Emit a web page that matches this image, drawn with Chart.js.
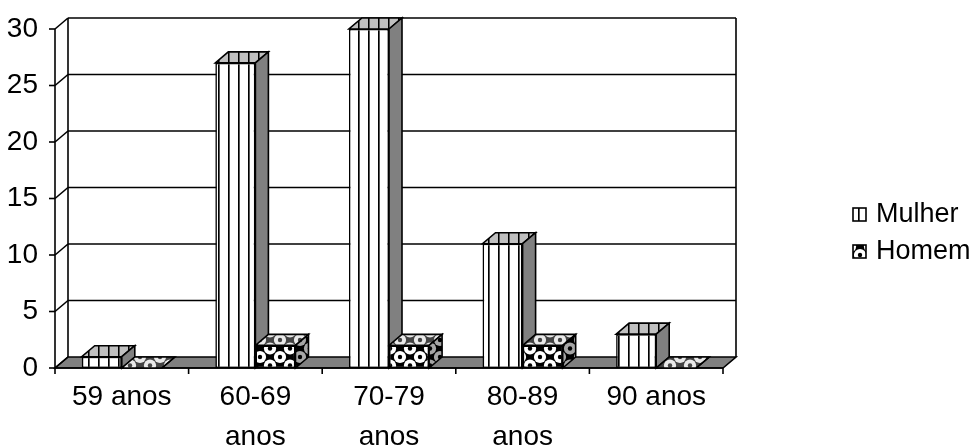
<!DOCTYPE html>
<html>
<head>
<meta charset="utf-8">
<script src="https://cdn.jsdelivr.net/npm/chart.js@4.4.1/dist/chart.umd.min.js"></script>
<style>
html, body { margin: 0; padding: 0; background: #fff; }
canvas { display: block; }
</style>
</head>
<body>
<canvas id="chart" width="976" height="446"></canvas>
<script>
// ================= DATA =================
const categories = [['59 anos'], ['60-69', 'anos'], ['70-79', 'anos'], ['80-89', 'anos'], ['90 anos']];
const mulher = [1, 27, 30, 11, 3];
const homem = [0, 2, 2, 2, 0];
const seriesNames = ['Mulher', 'Homem'];
const Y_MAX = 30;
const Y_STEP = 5;

// ================= 3D LOOK =================
// offset of the back wall relative to the front plane
const DX = 13;
const DY = -11;
const FONT = 'Liberation Sans, Arial, sans-serif';

const ctx = document.getElementById('chart').getContext('2d');

// vertical stripes (Mulher)
function stripePattern(bg) {
    const c = document.createElement('canvas');
    c.width = 10; c.height = 4;
    const g = c.getContext('2d');
    g.fillStyle = bg; g.fillRect(0, 0, 10, 4);
    g.fillStyle = '#000'; g.fillRect(8, 0, 1, 4);
    g.fillStyle = '#555'; g.fillRect(9, 0, 1, 4);
    return ctx.createPattern(c, 'repeat');
}

// "bola" pattern (Homem)
function ballPattern(shade) {
    const c = document.createElement('canvas');
    c.width = 20; c.height = 17;
    const g = c.getContext('2d');
    g.fillStyle = '#000'; g.fillRect(0, 0, 20, 17);
    const centers = [[0, 0], [20, 0], [0, 17], [20, 17], [10, 8.5]];
    g.fillStyle = '#fff';
    centers.forEach(([x, y]) => { g.beginPath(); g.arc(x, y, 6.1, 0, Math.PI * 2); g.fill(); });
    g.fillStyle = '#000';
    centers.forEach(([x, y]) => { g.beginPath(); g.arc(x, y, 2.2, 0, Math.PI * 2); g.fill(); });
    if (shade) { g.fillStyle = shade; g.fillRect(0, 0, 20, 17); }
    return ctx.createPattern(c, 'repeat');
}

function poly(c, pts, fill) {
    c.beginPath();
    c.moveTo(pts[0][0], pts[0][1]);
    for (let i = 1; i < pts.length; i++) c.lineTo(pts[i][0], pts[i][1]);
    c.closePath();
    if (fill) c.fill();
    c.stroke();
}

function line(c, x1, y1, x2, y2) {
    c.beginPath();
    c.moveTo(x1, y1);
    c.lineTo(x2, y2);
    c.stroke();
}

// ================= PLUGIN =================
const frame3d = {
    id: 'frame3d',
    beforeDatasetsDraw(chart) {
        const { ctx: c, chartArea: a, scales: { x, y } } = chart;
        c.save();
        c.strokeStyle = '#000';
        c.lineWidth = 1.6;

        // floor
        c.fillStyle = '#808080';
        poly(c, [[a.left, a.bottom], [a.right, a.bottom], [a.right + DX, a.bottom + DY], [a.left + DX, a.bottom + DY]], true);

        // grid on back wall + side wall
        y.ticks.forEach(t => {
            const py = y.getPixelForValue(t.value);
            line(c, a.left, py, a.left + DX, py + DY);
            if (t.value > 0) line(c, a.left + DX, py + DY, a.right + DX, py + DY);
            line(c, a.left - 6, py, a.left, py);
        });

        // wall edges
        line(c, a.left + DX, a.top + DY, a.left + DX, a.bottom + DY);
        line(c, a.right + DX, a.top + DY, a.right + DX, a.bottom + DY);

        // front axes
        line(c, a.left, a.top, a.left, a.bottom);
        line(c, a.left, a.bottom, a.right, a.bottom);
        const step = x.getPixelForValue(1) - x.getPixelForValue(0);
        for (let i = 0; i <= categories.length; i++) {
            const px = x.getPixelForValue(i) - step / 2;
            line(c, px, a.bottom, px, a.bottom + 6);
        }

        // bar tops and right sides
        chart.data.datasets.forEach((ds, di) => {
            chart.getDatasetMeta(di).data.forEach(bar => {
                const l = bar.x - bar.width / 2, r = bar.x + bar.width / 2;
                const t = bar.y, b = bar.base;
                c.fillStyle = ds.topColor;
                poly(c, [[l, t], [r, t], [r + DX, t + DY], [l + DX, t + DY]], true);
                c.fillStyle = ds.sideColor;
                poly(c, [[r, t], [r, b], [r + DX, b + DY], [r + DX, t + DY]], true);
            });
        });
        c.restore();
    },
    afterDraw(chart) {
        // legend
        const c = chart.ctx;
        const rows = [215, 252];
        c.save();
        c.font = '27px ' + FONT;
        c.textBaseline = 'middle';
        c.lineWidth = 1.6;
        c.strokeStyle = '#000';
        chart.data.datasets.forEach((ds, i) => {
            c.fillStyle = ds.backgroundColor;
            c.fillRect(853, rows[i] - 7, 13, 13);
            c.strokeRect(853, rows[i] - 7, 13, 13);
            c.fillStyle = '#000';
            c.fillText(ds.label, 876, rows[i]);
        });
        c.restore();
    }
};

// ================= CHART =================
new Chart(ctx, {
    type: 'bar',
    data: {
        labels: categories,
        datasets: [
            {
                label: seriesNames[0],
                data: mulher,
                backgroundColor: stripePattern('#fff'),
                topColor: stripePattern('#c0c0c0'),
                sideColor: '#808080',
                borderColor: '#000',
                borderWidth: 1.6,
                borderSkipped: false,
                categoryPercentage: 0.6,
                barPercentage: 1
            },
            {
                label: seriesNames[1],
                data: homem,
                backgroundColor: ballPattern(null),
                topColor: ballPattern('rgba(192,192,192,0.35)'),
                sideColor: ballPattern('rgba(0,0,0,0.35)'),
                borderColor: '#000',
                borderWidth: 1.6,
                borderSkipped: false,
                categoryPercentage: 0.6,
                barPercentage: 1
            }
        ]
    },
    options: {
        responsive: false,
        animation: false,
        layout: { padding: { top: 29, right: 253, left: 0, bottom: 0 } },
        plugins: {
            legend: { display: false },
            tooltip: { enabled: false }
        },
        scales: {
            x: {
                grid: { display: false, drawTicks: false },
                border: { display: false },
                ticks: { color: '#000', padding: 10, font: { family: FONT, size: 28, lineHeight: 1.4 }, maxRotation: 0 },
                afterFit: s => { s.height = 78; }
            },
            y: {
                min: 0,
                max: Y_MAX,
                grid: { display: false, drawTicks: false },
                border: { display: false },
                ticks: { stepSize: Y_STEP, color: '#000', padding: 17, font: { family: FONT, size: 28 } },
                afterFit: s => { s.width = 55; s.paddingTop = 0; s.paddingBottom = 0; }
            }
        }
    },
    plugins: [frame3d]
});
</script>
</body>
</html>
